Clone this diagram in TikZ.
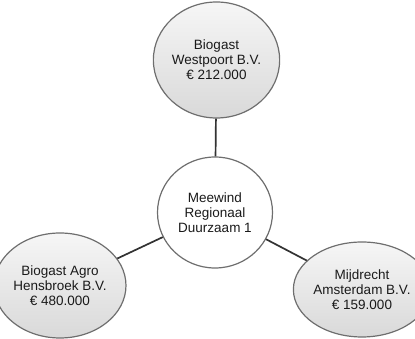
\documentclass[tikz,border=0pt]{standalone}
\usepackage{fontspec}
\setmainfont{Liberation Sans}
\usetikzlibrary{shapes.geometric}
\definecolor{rim}{HTML}{6E6E6E}
\definecolor{linkc}{HTML}{333333}
\definecolor{fillTop}{HTML}{F6F6F6}
\definecolor{fillBot}{HTML}{D9D9D9}
\definecolor{txt}{HTML}{1A1A1A}
\begin{document}
\begin{tikzpicture}[x=1pt,y=1pt,
  bubble/.style={ellipse, draw=rim, line width=1.2pt, inner sep=0pt, align=center,
    text=txt, font=\fontsize{13.5}{15}\selectfont},
  outer/.style={bubble, top color=fillTop, bottom color=fillBot},
  centre/.style={bubble, fill=white},
  link/.style={draw=linkc, line width=1.7pt}]
\useasboundingbox (0,0) rectangle (415,339);
\node[outer, minimum width=117pt, minimum height=116pt] (top) at (216.5,279) {Biogast\\Westpoort B.V.\\€ 212.000};
\node[centre, minimum width=115pt, minimum height=111pt] (mid) at (215,126.5) {Meewind\\Regionaal\\Duurzaam 1};
\node[outer, minimum width=116pt, minimum height=105pt] (left) at (60,53.5) {Biogast Agro\\Hensbroek B.V.\\€ 480.000};
\node[outer, minimum width=104pt, minimum height=95pt] (right) at (362,49.5) {Mijdrecht\\Amsterdam B.V.\\€ 159.000};
\draw[link] (mid) -- (top);
\draw[link] (mid) -- (left);
\draw[link] (mid) -- (right);
\end{tikzpicture}
\end{document}
